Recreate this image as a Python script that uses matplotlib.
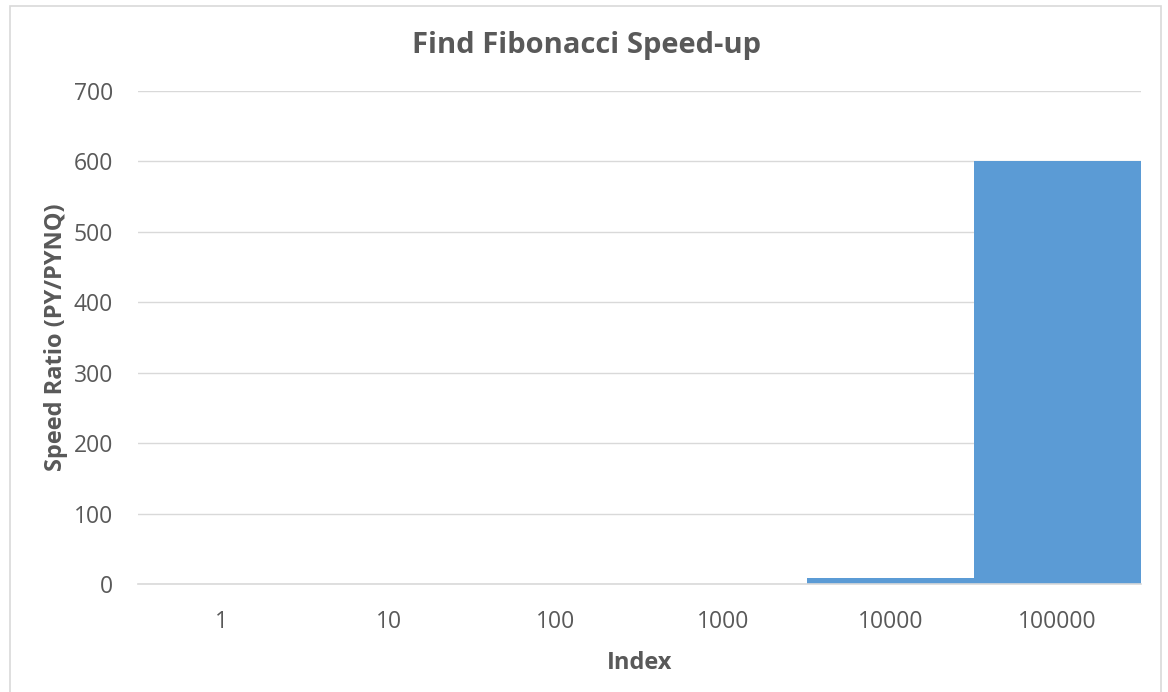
import matplotlib
matplotlib.use("Agg")
import matplotlib.pyplot as plt
from matplotlib.patches import Rectangle

categories = ["1", "10", "100", "1000", "10000", "100000"]
speed_ratio = [0.1, 0.2, 0.3, 0.6, 8.0, 601.0]
y_ticks = [0, 100, 200, 300, 400, 500, 600, 700]

plt.rcParams["font.family"] = ["Open Sans", "DejaVu Sans"]

W, H = 1168, 692
fig = plt.figure(figsize=(W / 100, H / 100), dpi=100)
fig.patch.set_facecolor("white")

# outer chart border
fig.add_artist(Rectangle((10 / W, -0.01), (1161 - 10) / W, (H - 6) / H + 0.01,
                         transform=fig.transFigure, fill=False,
                         edgecolor="#d9d9d9", linewidth=1.2))

ax = fig.add_axes([138 / W, (H - 584) / H, (1141 - 138) / W, (584 - 91) / H])
x = range(len(categories))
ax.bar(x, speed_ratio, width=1.0, color="#5b9bd5", zorder=3)

ax.set_xlim(-0.5, len(categories) - 0.5)
ax.set_ylim(0, 700)
ax.set_yticks(y_ticks)
ax.set_xticks(list(x))
ax.set_xticklabels(categories)
ax.yaxis.grid(True, color="#d9d9d9", linewidth=1.0, zorder=0)
ax.set_axisbelow(True)

for s in ["top", "right", "left"]:
    ax.spines[s].set_visible(False)
ax.spines["bottom"].set_color("#d9d9d9")
ax.spines["bottom"].set_linewidth(1.2)
ax.spines["bottom"].set_zorder(4)

ax.tick_params(axis="both", length=0, colors="#595959", labelsize=16.5)
ax.tick_params(axis="y", pad=18)
ax.tick_params(axis="x", pad=19)

ax.set_xlabel("Index", fontsize=17, fontweight="bold", color="#595959", labelpad=12)
ax.set_ylabel("Speed Ratio (PY/PYNQ)", fontsize=17, fontweight="bold", color="#595959", labelpad=4)

fig.text(586 / W, 1 - 45 / H, "Find Fibonacci Speed-up", ha="center", va="center",
         fontsize=21, fontweight="bold", color="#595959")

fig.savefig("out.png", dpi=100, facecolor="white")
